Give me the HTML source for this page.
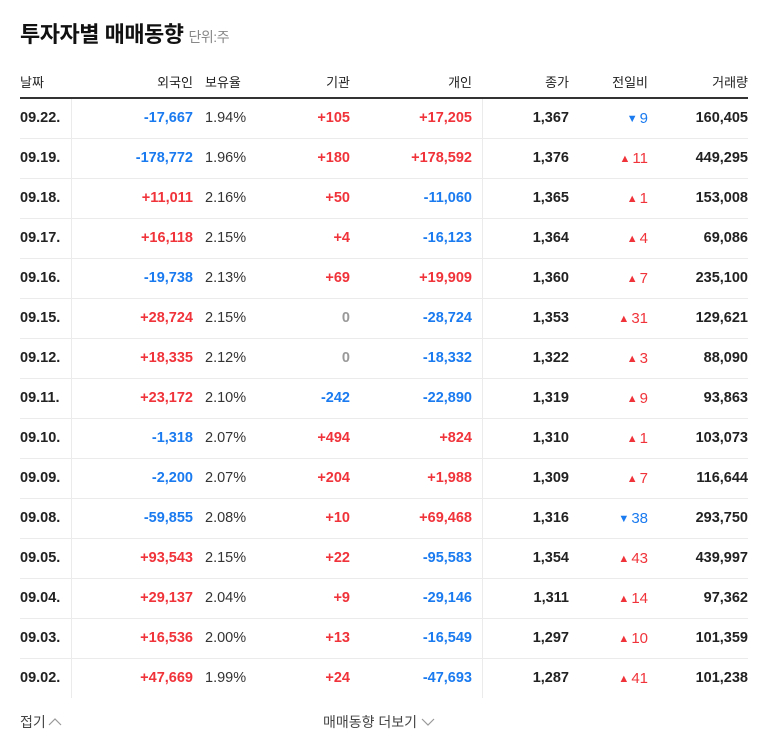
<!DOCTYPE html>
<html><head><meta charset="utf-8">
<style>
body{margin:0;width:768px;height:749px;background:#fff;font-family:"Liberation Sans","Noto Sans CJK KR",sans-serif;position:relative;overflow:hidden}
.abs{position:absolute;white-space:nowrap}
.title{left:20px;top:17px;font-size:22px;font-weight:bold;color:#111;letter-spacing:-0.5px}
.unit{font-size:14px;font-weight:normal;color:#888;margin-left:5px}
.hd{top:72px;font-size:13px;color:#222}
.hline{left:20px;width:728px;top:97px;height:2px;background:#333}
.sep{left:20px;width:728px;height:1px;background:#ebebeb}
.vline{width:1px;background:#ebebeb;top:99px;height:599px}
.c{font-size:14.5px;font-weight:bold;color:#222}
.n{font-weight:normal;color:#333}
.red{color:#f0333a}.blue{color:#1a7aef}.gray{color:#999}
.foot{top:712px;font-size:14px;color:#444}
.tri{font-size:11px;vertical-align:1px;margin-right:2px}
</style></head><body>
<div class="abs title">투자자별 매매동향<span class="unit">단위:주</span></div>
<div class="abs hd" style="left:20px">날짜</div>
<div class="abs hd" style="right:575px">외국인</div>
<div class="abs hd" style="left:205px">보유율</div>
<div class="abs hd" style="right:418px">기관</div>
<div class="abs hd" style="right:296px">개인</div>
<div class="abs hd" style="right:199px">종가</div>
<div class="abs hd" style="right:120px">전일비</div>
<div class="abs hd" style="right:20px">거래량</div>
<div class="abs hline"></div>
<div class="abs vline" style="left:71px"></div>
<div class="abs vline" style="left:482px"></div>
<div id="rows"></div>
<div class="abs foot" style="left:20px">접기<svg width="14" height="10" style="margin-left:2px" viewBox="0 0 14 10"><polyline points="1,8 7,2 13,8" fill="none" stroke="#999" stroke-width="1.2"/></svg></div>
<div class="abs foot" style="left:323px">매매동향 더보기<svg width="14" height="10" style="margin-left:4px" viewBox="0 0 14 10"><polyline points="1,2 7,8 13,2" fill="none" stroke="#999" stroke-width="1.2"/></svg></div>
<script>
const dates=["09.22.","09.19.","09.18.","09.17.","09.16.","09.15.","09.12.","09.11.","09.10.","09.09.","09.08.","09.05.","09.04.","09.03.","09.02."];
const foreign=[-17667,-178772,11011,16118,-19738,28724,18335,23172,-1318,-2200,-59855,93543,29137,16536,47669];
const holding=["1.94%","1.96%","2.16%","2.15%","2.13%","2.15%","2.12%","2.10%","2.07%","2.07%","2.08%","2.15%","2.04%","2.00%","1.99%"];
const institution=[105,180,50,4,69,0,0,-242,494,204,10,22,9,13,24];
const individual=[17205,178592,-11060,-16123,19909,-28724,-18332,-22890,824,1988,69468,-95583,-29146,-16549,-47693];
const closePrice=[1367,1376,1365,1364,1360,1353,1322,1319,1310,1309,1316,1354,1311,1297,1287];
const change=[-9,11,1,4,7,31,3,9,1,7,-38,43,14,10,41];
const volume=[160405,449295,153008,69086,235100,129621,88090,93863,103073,116644,293750,439997,97362,101359,101238];
const fmt=v=>Math.abs(v).toLocaleString('en-US');
const sgn=v=>v>0?'+'+fmt(v):v<0?'-'+fmt(v):'0';
const cls=v=>v>0?'red':v<0?'blue':'gray';
const root=document.getElementById('rows');
function cell(txt,css,style,name){
  const d=document.createElement('div');
  d.className='abs c '+css;d.style.cssText=style;d.innerHTML=txt;
  
  
  root.appendChild(d);
}
dates.forEach((dt,i)=>{
  const top=99+i*40, ty=top+11;
  if(i>0){const s=document.createElement('div');s.className='abs sep';s.style.top=(top-1)+'px';
    
    
    root.appendChild(s);}
  cell(dt,'','left:20px;top:'+ty+'px','date-cell');
  cell(sgn(foreign[i]),cls(foreign[i]),'right:575px;top:'+ty+'px','foreign-cell');
  cell(holding[i],'n','left:205px;top:'+ty+'px','holding-cell');
  cell(sgn(institution[i]),cls(institution[i]),'right:418px;top:'+ty+'px','institution-cell');
  cell(sgn(individual[i]),cls(individual[i]),'right:296px;top:'+ty+'px','individual-cell');
  cell(fmt(closePrice[i]),'','right:199px;top:'+ty+'px','close-cell');
  const c=change[i];
  const tri='<span class="tri">'+(c<0?'▼':'▲')+'</span>';
  cell(tri+Math.abs(c),'n '+(c<0?'blue':'red'),'right:120px;top:'+ty+'px;font-size:15px','change-cell');
  cell(fmt(volume[i]),'','right:20px;top:'+ty+'px','volume-cell');
});
</script>
</body></html>
